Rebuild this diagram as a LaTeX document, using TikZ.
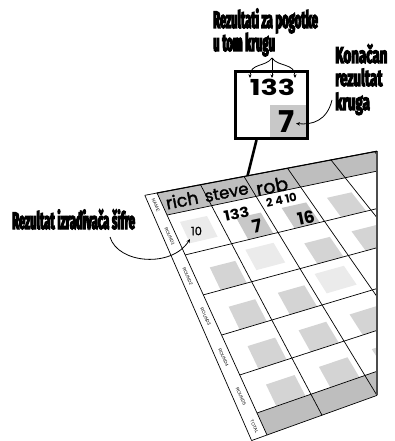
\documentclass[tikz,border=0pt]{standalone}
\usepackage{fontspec}
\setmainfont{Poppins}
\newfontfamily\callfont[FakeStretch=0.47,FakeBold=4.5]{Fira Sans}
\newfontfamily\callfontw[FakeStretch=0.58,FakeBold=4.5]{Fira Sans}
\newfontfamily\tinyfont{Liberation Sans}
\newfontfamily\geomed[FakeBold=1.6]{Poppins}
\usetikzlibrary{arrows.meta,calc}
\definecolor{hdr}{HTML}{BEBEBE}
\definecolor{sqd}{HTML}{D4D4D4}
\definecolor{sql}{HTML}{EBEBEB}
\definecolor{sqk}{HTML}{C8C8C8}
\def\tarr{{0,0.091,0.256,0.421,0.587,0.752,0.909,1}}
\newcommand\mapxy[4]{%
  \pgfmathsetmacro#3{(1-(#2))*(157+43.5*(#1))+(#2)*(267+55*(#1))}%
  \pgfmathsetmacro#4{(1-(#2))*(193-8.265*(#1))+(#2)*(435-19.8*(#1))}}
\newcommand\cellsq[7]{%
  \pgfmathsetmacro\ta{\tarr[#2]}%
  \pgfmathtruncatemacro\rn{#2+1}%
  \pgfmathsetmacro\tb{\tarr[\rn]}%
  \pgfmathsetmacro\tA{\ta+(#5)*(\tb-\ta)}%
  \pgfmathsetmacro\tB{\ta+(#6)*(\tb-\ta)}%
  \pgfmathsetmacro\cA{#1+#3}%
  \pgfmathsetmacro\cB{#1+#4}%
  \mapxy{\cA}{\tA}\xa\ya
  \mapxy{\cB}{\tA}\xb\yb
  \mapxy{\cB}{\tB}\xc\yc
  \mapxy{\cA}{\tB}\xd\yd
  \fill[#7] (\xa,\ya) -- (\xb,\yb) -- (\xc,\yc) -- (\xd,\yd) -- cycle;}
\newcommand\Lsq[2]{\cellsq{#1}{#2}{0.2}{0.8}{0.22}{0.76}{sql}}
\newcommand\Dsq[3]{\cellsq{#1}{#2}{0.36}{0.9}{0.42}{1}{#3}}
\begin{document}
\begin{tikzpicture}[x=1pt,y=-1pt,
  callout/.style={font=\callfont\bfseries\fontsize{24}{26}\selectfont, inner sep=0pt, anchor=base west},
  calloutw/.style={font=\callfontw\bfseries\fontsize{23}{25}\selectfont, inner sep=0pt, anchor=base west},
  gridline/.style={line width=0.7pt},
  striplab/.style={font=\tinyfont\fontsize{4.5}{4.5}\selectfont, inner sep=0pt, rotate=-65.6},
  hdrtext/.style={font=\geomed\fontsize{#1}{#1}\selectfont, inner sep=0pt, rotate=11},
  numtext/.style={font=\bfseries\fontsize{#1}{#1}\selectfont, inner sep=0pt, rotate=12},
  callarrow/.style={line width=0.8pt, -{Stealth[length=4pt,width=3.5pt]}},
  smallarrow/.style={line width=0.8pt, -{Stealth[length=3.5pt,width=3pt]}}]
\useasboundingbox (0,0) rectangle (394,441);
\fill[white] (0,0) rectangle (394,441);
% grid coordinates
\foreach \r in {0,...,7}{
  \pgfmathsetmacro\tv{\tarr[\r]}
  \foreach \c in {0,...,5}{
    \mapxy{\c}{\tv}\px\py
    \coordinate (g\c-\r) at (\px,\py);}
  \mapxy{-0.28}{\tv}\px\py
  \coordinate (s\r) at (\px,\py);
}
\begin{scope}
\clip (0,0) rectangle (377,441);
\fill[hdr] (g0-0) -- (g5-0) -- (g5-1) -- (g0-1) -- cycle;
\fill[hdr] (g0-6) -- (g5-6) -- (g5-7) -- (g0-7) -- cycle;
% squares
\Lsq{0}{1}
\Dsq{1}{1}{sqk}
\Dsq{2}{1}{sqk}
\Dsq{3}{1}{sqd}
\Dsq{0}{2}{sqd}
\Lsq{1}{2}
\Dsq{2}{2}{sqd}
\Dsq{3}{2}{sqd}
\Dsq{0}{3}{sqd}
\Dsq{1}{3}{sqd}
\Lsq{2}{3}
\Dsq{3}{3}{sqd}
\Dsq{0}{4}{sqd}
\Dsq{1}{4}{sqd}
\Dsq{2}{4}{sqd}
\Dsq{0}{5}{sqd}
\Dsq{1}{5}{sqd}
\Dsq{2}{5}{sqd}
\foreach \r in {0,...,7} \draw[gridline] (g0-\r) -- (g5-\r);
\foreach \c in {0,...,5} \draw[gridline] (g\c-0) -- (g\c-7);
\end{scope}
% strip
\draw[gridline] (s0) -- (s7);
\draw[gridline] (s0) -- (g0-0);
\draw[gridline] (s7) -- (g0-7);
\coordinate (eT) at (377,151.2);
\coordinate (eB) at (377,395.4);
\draw[line width=1.8pt, black!70] (eT) -- (eB);
\draw[line width=1.1pt] (g0-0) -- (eT);
% strip labels
\foreach \r/\lab in {0/NAME,1/ROUND1,2/ROUND2,3/ROUND3,4/ROUND4,5/ROUND5,6/TOTAL}{
  \pgfmathsetmacro\ta{\tarr[\r]}
  \pgfmathtruncatemacro\rn{\r+1}
  \pgfmathsetmacro\tb{\tarr[\rn]}
  \mapxy{-0.14}{(\ta+\tb)/2}\px\py
  \node[striplab] (lab\r) at (\px,\py) {\lab};
}
% header names
\node[hdrtext=17.5] (rich) at (182,200) {rich};
\node[hdrtext=16.5] (steve) at (226.5,192.5) {steve};
\node[hdrtext=19] (rob) at (272,186) {rob};
% cell values
\node[font=\geomed\fontsize{11.5}{11.5}\selectfont, inner sep=0pt] (ten) at (196.5,231) {10};
\node[font=\bfseries\fontsize{14}{14}\selectfont, inner sep=0pt, rotate=12] (s133) at (236.5,214) {\scalebox{1.15}[1]{133}};
\node[numtext=18] (s7) at (257,226.5) {7};
\node[font=\bfseries\fontsize{11.5}{11.5}\selectfont, inner sep=0pt, rotate=12] (r2410) at (281.5,200) {2 4 10};
\node[numtext=17] (r16) at (306,217.5) {16};
% zoom box
\fill[sqk] (270,105) rectangle (308.5,138.5);
\node[draw, line width=3pt, minimum width=72pt, minimum height=67pt, inner sep=0pt] (box) at (271.5,105) {};
\node[font=\bfseries\fontsize{22}{22}\selectfont, inner sep=0pt] (b133) at (272.5,87.5) {\scalebox{1.3}[1]{133}};
\node[font=\bfseries\fontsize{30}{30}\selectfont, inner sep=0pt] (b7) at (287,121.5) {7};
\coordinate (hook) at (247.5,175.9);
\draw[line width=2.6pt] ($(box.south west)!0.3!(box.south east)$) -- (hook);
% callouts
\node[callout] (t1) at (213,28) {Rezultati za pogotke};
\node[callout] (t1b) at (213,51) {u tom krugu};
\node[calloutw] (t2a) at (335,63) {Konačan};
\node[calloutw] (t2b) at (335,86) {rezultat};
\node[calloutw] (t2c) at (335,110) {kruga};
\node[callout] (t3) at (12,229) {Rezultat izrađivača šifre};
% arrows
\coordinate (a1s) at (272,58);
\coordinate (a1l) at (250,78);
\coordinate (a1m) at (272,78);
\coordinate (a1r) at (295,78);
\draw[smallarrow] (a1s) .. controls (266,67) and (250,63) .. (a1l);
\draw[smallarrow] (a1s) -- (a1m);
\draw[smallarrow] (a1s) .. controls (278,67) and (295,63) .. (a1r);
\coordinate (a2s) at (332,100);
\coordinate (a2e) at (296,123.5);
\draw[callarrow] (a2s) .. controls (327,121) and (312,125) .. (a2e);
\coordinate (a3s) at (110,237);
\coordinate (a3e) at (190,239);
\draw[callarrow] (a3s) .. controls (118,264) and (172,268) .. (a3e);
\end{tikzpicture}
\end{document}
